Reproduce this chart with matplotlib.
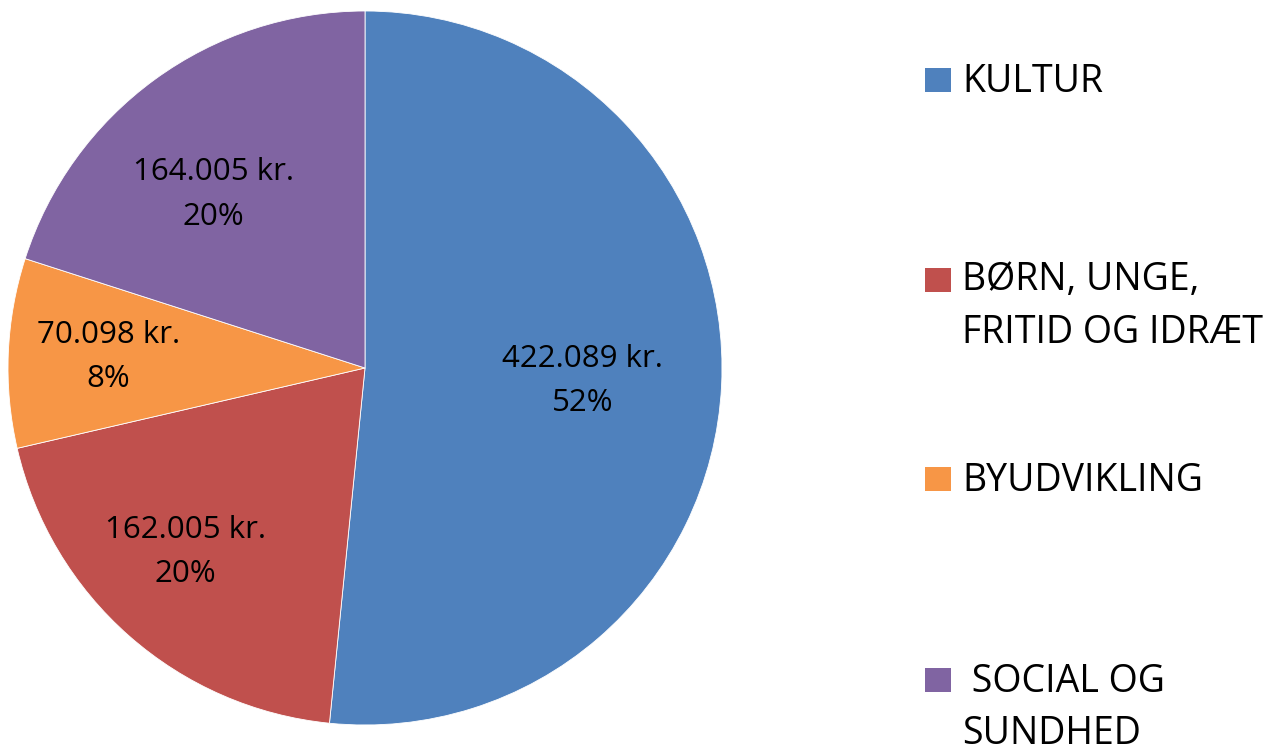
import matplotlib
matplotlib.use("Agg")
import matplotlib.pyplot as plt
from matplotlib.patches import Rectangle
import numpy as np

# data
categories = ["KULTUR", "BØRN, UNGE,\nFRITID OG IDRÆT", "BYUDVIKLING", " SOCIAL OG\nSUNDHED"]
amounts = [422089, 162005, 70098, 164005]
percents = [52, 20, 8, 20]  # as printed on the chart
colors = ["#4F81BD", "#C0504D", "#F79646", "#8064A2"]

plt.rcParams['font.family'] = ['Open Sans', 'DejaVu Sans']

W, H = 1267, 747
fig = plt.figure(figsize=(W / 100, H / 100), dpi=100)

# pie axes: centre (365, 368) px, radius 357 px
cx, cy, r = 365, 368, 357
ax = fig.add_axes([(cx - r) / W, (H - cy - r) / H, 2 * r / W, 2 * r / H])
wedges, _ = ax.pie(amounts, colors=colors, startangle=90, counterclock=False,
                   radius=1, wedgeprops=dict(edgecolor="white", linewidth=0.6))
ax.set_xlim(-1, 1)
ax.set_ylim(-1, 1)
ax.set_aspect("equal")
ax.axis("off")

# data labels
label_dist = [0.61, 0.72, 0.72, 0.645]
label_shift = [-0.5, -3, 0, 5]  # degrees
for w, val, pct, d, s in zip(wedges, amounts, percents, label_dist, label_shift):
    ang = np.deg2rad((w.theta1 + w.theta2) / 2 + s)
    txt = "{:,} kr.".format(val).replace(",", ".") + "\n{}%".format(pct)
    ax.text(d * np.cos(ang), d * np.sin(ang), txt, ha="center", va="center",
            fontsize=22.5, linespacing=1.62, color="black")

# legend, drawn by hand
square_y = [80, 280, 479, 680]
baselines = [[92], [290, 343], [491], [692, 744]]
for lab, col, sy, bls in zip(categories, colors, square_y, baselines):
    fig.add_artist(Rectangle((925 / W, 1 - (sy + 12) / H), 26 / W, 24 / H,
                             transform=fig.transFigure, facecolor=col, edgecolor="none"))
    for line, bl in zip(lab.split("\n"), bls):
        fig.text(962 / W, 1 - bl / H, line, ha="left", va="baseline",
                 fontsize=27, color="black")

fig.savefig("out.png", dpi=100)
